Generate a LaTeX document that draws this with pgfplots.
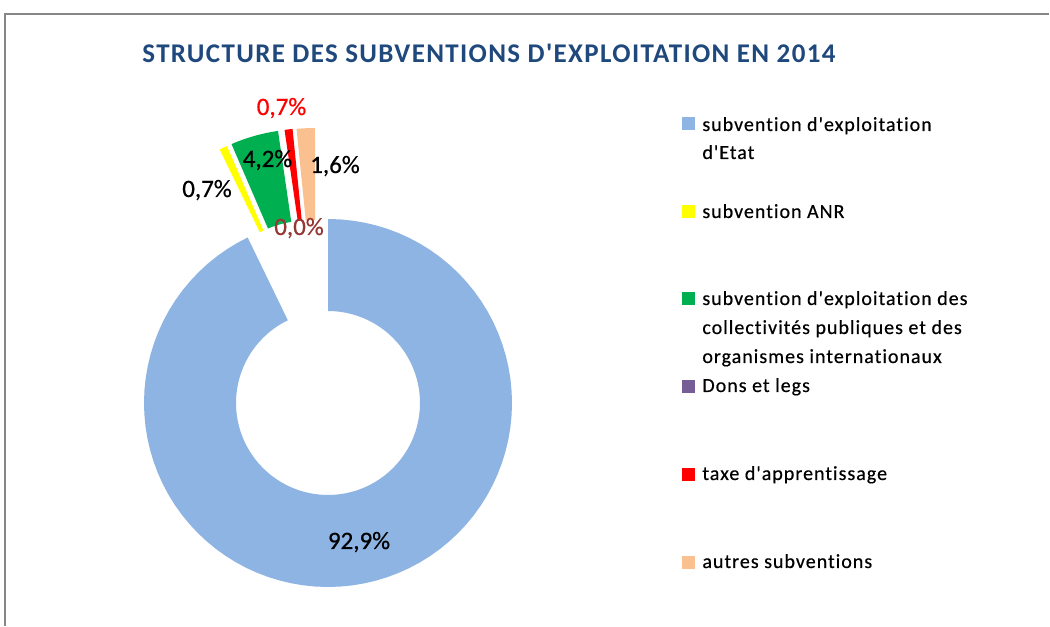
\documentclass[border=0pt]{standalone}
\usepackage{fontspec}
\setmainfont{Carlito}
\newfontfamily\labfont{Carlito}[FakeBold=0.6]
\newfontfamily\legfont{Carlito}[LetterSpace=5, Ligatures=NoCommon, FakeBold=0.4]
\newfontfamily\titlefont{Carlito Bold}[LetterSpace=5, Ligatures=NoCommon]
\usepackage{pgfplots}
\pgfplotsset{compat=1.18}
\definecolor{cEtat}{RGB}{141,180,226}
\definecolor{cANR}{RGB}{255,255,0}
\definecolor{cColl}{RGB}{0,176,80}
\definecolor{cDons}{RGB}{117,93,150}
\definecolor{cTaxe}{RGB}{255,0,0}
\definecolor{cAutres}{RGB}{250,192,143}
\definecolor{cTitle}{RGB}{31,73,125}
\definecolor{cZero}{RGB}{149,55,53}
\definecolor{cFrame}{RGB}{134,134,134}
% ring slice: #1 start (cumulative %), #2 end (cumulative %), #3 #4 explosion offset, #5 colour
\newcommand{\slice}[5]{%
  \fill[#5] plot[variable=\t, domain=#1:#2, samples=90]
      (axis cs:{328+(#3)+184*sin(3.5964*\t)},{403+(#4)-184*cos(3.5964*\t)})
    -- plot[variable=\t, domain=#2:#1, samples=90]
      (axis cs:{328+(#3)+92*sin(3.5964*\t)},{403+(#4)-92*cos(3.5964*\t)})
    -- cycle;}
\begin{document}
\begin{tikzpicture}
\begin{axis}[hide axis, scale only axis, x=0.5pt, y=0.5pt,
  xmin=0, xmax=1050, ymin=0, ymax=626, y dir=reverse, clip=false]
\fill[white] (axis cs:0,0) rectangle (axis cs:1050,626);
\draw[cFrame, line width=0.75pt] (axis cs:5,626) -- (axis cs:5,14) -- (axis cs:1049,14);
% values: Etat 92.9, ANR 0.7, collectivites 4.2, Dons 0.0, taxe 0.7, autres 1.6
\slice{0}{92.9}{0}{0}{cEtat}
\slice{92.9}{93.6}{-28}{-88}{cANR}
\slice{93.6}{97.8}{-23.5}{-90}{cColl}
\slice{97.8}{98.5}{-17}{-91}{cTaxe}
\slice{98.5}{100.1}{-13}{-91}{cAutres}
% data labels
\begin{scope}[every node/.style={anchor=base, font=\labfont\fontsize{12.5}{15}\selectfont}]
\node[text=cTaxe] at (axis cs:281.5,115) {0,7\%};
\node at (axis cs:267.5,167) {4,2\%};
\node at (axis cs:335,173) {1,6\%};
\node at (axis cs:207,197) {0,7\%};
\node[text=cZero] at (axis cs:299,235) {0,0\%};
\node at (axis cs:359,549) {92,9\%};
\end{scope}
% title
\node[anchor=base west, inner sep=0pt, text=cTitle, font=\titlefont\fontsize{13.5}{16}\selectfont] at (axis cs:142,63) {STRUCTURE DES SUBVENTIONS D'EXPLOITATION EN 2014};
% legend
\fill[cEtat] (axis cs:682,117) rectangle (axis cs:695,130);
\fill[cANR] (axis cs:682,205) rectangle (axis cs:695,218);
\fill[cColl] (axis cs:682,292) rectangle (axis cs:695,305);
\fill[cDons] (axis cs:682,380) rectangle (axis cs:695,393);
\fill[cTaxe] (axis cs:682,468) rectangle (axis cs:695,481);
\fill[cAutres] (axis cs:682,556) rectangle (axis cs:695,569);
\begin{scope}[every node/.style={anchor=base west, inner sep=0pt, font=\legfont\fontsize{10}{14}\selectfont}]
\node at (axis cs:702,131) {subvention d'exploitation};
\node at (axis cs:702,159) {d'Etat};
\node at (axis cs:702,218) {subvention ANR};
\node at (axis cs:702,305) {subvention d'exploitation des};
\node at (axis cs:702,334) {collectivités publiques et des};
\node at (axis cs:702,363) {organismes internationaux};
\node at (axis cs:702,392) {Dons et legs};
\node at (axis cs:702,480) {taxe d'apprentissage};
\node at (axis cs:702,568) {autres subventions};
\end{scope}
\end{axis}
\end{tikzpicture}
\end{document}
